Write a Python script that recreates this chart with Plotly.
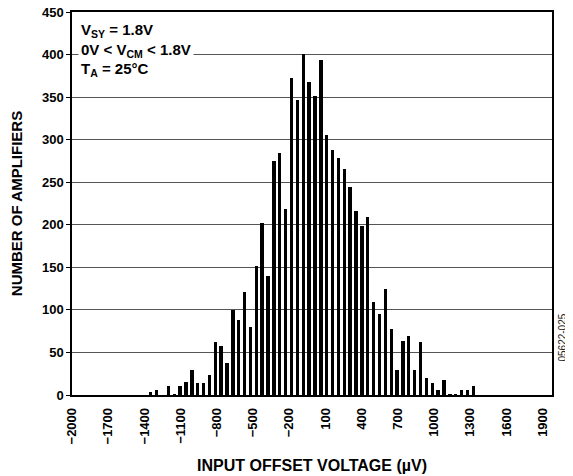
import plotly.graph_objects as go

# Bin centers (µV)
bin_centers = [-1347, -1298, -1250, -1201, -1153, -1104, -1055, -1007, -958, -910,
               -861, -812, -764, -715, -667, -618, -569, -521, -472, -424,
               -375, -326, -278, -229, -181, -132, -83, -35, 14, 62,
               111, 160, 208, 257, 305, 354, 403, 451, 500, 548,
               597, 646, 694, 743, 791, 840, 889, 937, 986, 1034,
               1083, 1132, 1180, 1229, 1277, 1326]
# Number of amplifiers per bin
counts = [3, 6, 0, 11, 1, 11, 15, 29, 14, 14,
          23, 62, 57, 38, 100, 88, 121, 80, 151, 202,
          140, 275, 284, 218, 373, 347, 401, 368, 351, 394,
          305, 288, 279, 265, 244, 216, 199, 209, 109, 95,
          125, 77, 29, 63, 69, 29, 62, 20, 14, 6,
          18, 1, 1, 6, 6, 10]

x_ticks = [-2000, -1700, -1400, -1100, -800, -500, -200, 100, 400, 700, 1000, 1300, 1600, 1900]
x_tick_labels = ["\u22122000", "\u22121700", "\u22121400", "\u22121100", "\u2212800", "\u2212500",
                 "\u2212200", "100", "400", "700", "1000", "1300", "1600", "1900"]
y_ticks = [0, 50, 100, 150, 200, 250, 300, 350, 400, 450]

FONT = "Liberation Sans, Arial, sans-serif"

fig = go.Figure()
fig.add_trace(go.Bar(
    x=bin_centers, y=counts, width=28,
    marker=dict(color="black", line=dict(width=0)),
    showlegend=False,
))

# page body has an 8px margin, so the figure is sized to fit inside the window
fig.update_layout(
    width=565, height=468,
    margin=dict(l=64, r=21, t=4, b=81, autoexpand=False),
    paper_bgcolor="white", plot_bgcolor="white",
    font=dict(family=FONT, color="black"),
    bargap=0,
    xaxis=dict(
        range=[-2000, 1978], automargin=False,
        tickmode="array", tickvals=x_ticks, ticktext=x_tick_labels,
        tickangle=-90,
        tickfont=dict(family=FONT, size=13, weight="bold"),
        showgrid=False, zeroline=False,
        showline=True, linecolor="black", linewidth=1.5, mirror=True,
        ticks="", ticklabelstandoff=6, ticklabeloverflow="allow",
        title=dict(text="INPUT OFFSET VOLTAGE (\u00b5V)",
                   font=dict(family=FONT, size=16, weight="bold"), standoff=16),
    ),
    yaxis=dict(
        range=[0, 450], automargin=False,
        tickmode="array", tickvals=y_ticks,
        tickfont=dict(family=FONT, size=13, weight="bold"),
        showgrid=True, gridcolor="#555555", gridwidth=1,
        zeroline=False,
        showline=True, linecolor="black", linewidth=1.5, mirror=True,
        ticks="outside", ticklen=4, tickcolor="black", tickwidth=1,
        ticklabeloverflow="allow",
        title=dict(text="NUMBER OF AMPLIFIERS",
                   font=dict(family=FONT, size=15, weight="bold"), standoff=22),
    ),
)

fig.add_annotation(
    xref="paper", yref="paper", x=0.012, y=0.985,
    xanchor="left", yanchor="top", align="left",
    text="V<sub>SY</sub> = 1.8V<br>0V &lt; V<sub>CM</sub> &lt; 1.8V<br>T<sub>A</sub> = 25\u00b0C",
    showarrow=False, bgcolor="white", borderpad=2,
    font=dict(family=FONT, size=15, weight="bold", color="black"),
)

fig.add_annotation(
    xref="paper", yref="paper", x=1.0, y=0.15,
    xanchor="center", yanchor="middle", xshift=11,
    text="05622-025", textangle=-90, showarrow=False,
    font=dict(family=FONT, size=10, color="#222222"),
)

fig.write_html("out.html")
